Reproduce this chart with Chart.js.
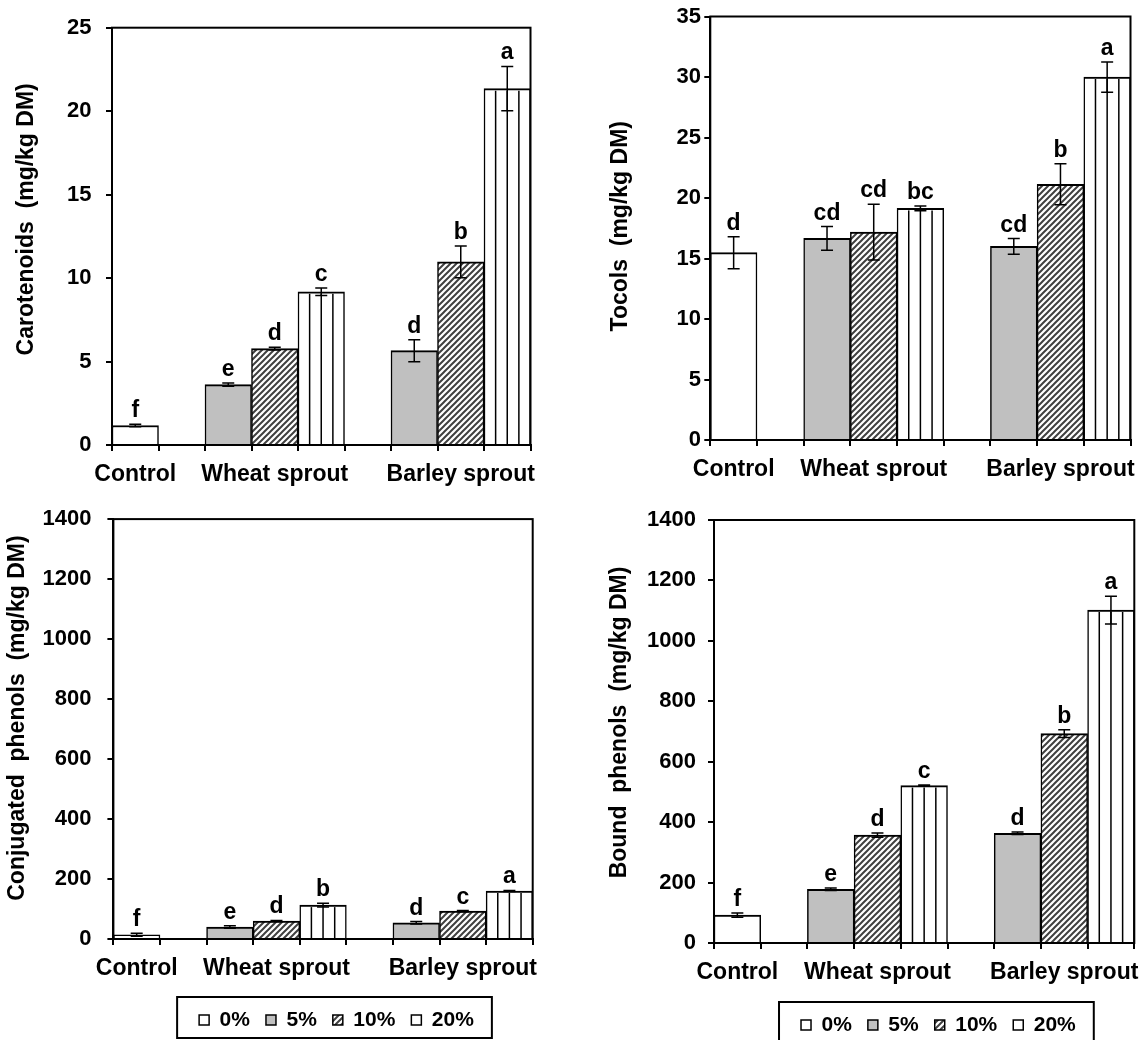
<!DOCTYPE html>
<html>
<head>
<meta charset="utf-8">
<script src="https://cdn.jsdelivr.net/npm/chart.js@4.4.0/dist/chart.umd.min.js"></script>
<style>
  html, body { margin: 0; padding: 0; background: #fff; overflow: hidden; width: 1146px; height: 1040px; }
  canvas { position: absolute; }
</style>
</head>
<body>
<canvas id="c1" width="560" height="500" style="left:0;top:0"></canvas>
<canvas id="c2" width="566" height="500" style="left:580px;top:0"></canvas>
<canvas id="c3" width="560" height="560" style="left:0;top:490px"></canvas>
<canvas id="c4" width="566" height="560" style="left:580px;top:490px"></canvas>
<script>
Chart.defaults.font.family = '"Liberation Sans", Arial, sans-serif';
Chart.defaults.font.weight = 'bold';
Chart.defaults.color = '#000';
Chart.defaults.animation = false;

// categories
const groups = ['Control', 'Wheat sprout', 'Barley sprout'];
const levels = ['0%', '5%', '10%', '20%'];
const groupLevels = [['0%'], ['5%', '10%', '20%'], ['5%', '10%', '20%']];

// values in bar order: Control 0%, Wheat 5/10/20%, Barley 5/10/20%
const carotenoids = [1.17, 3.62, 5.77, 9.18, 5.65, 10.97, 21.35];
const carotenoidsSd = [0.07, 0.1, 0.08, 0.22, 0.66, 0.95, 1.33];
const carotenoidsLetters = ['f', 'e', 'd', 'c', 'd', 'b', 'a'];
const carotenoidsTicks = [0, 5, 10, 15, 20, 25];

const tocols = [15.48, 16.66, 17.18, 19.14, 16.0, 21.14, 30.0];
const tocolsSd = [1.32, 0.98, 2.3, 0.2, 0.65, 1.7, 1.25];
const tocolsLetters = ['d', 'cd', 'cd', 'bc', 'cd', 'b', 'a'];
const tocolsTicks = [0, 5, 10, 15, 20, 25, 30, 35];

const conjugated = [14, 40, 60, 113, 54, 93, 160];
const conjugatedSd = [5, 4, 2, 6, 4, 2, 2];
const conjugatedLetters = ['f', 'e', 'd', 'b', 'd', 'c', 'a'];
const phenolTicks = [0, 200, 400, 600, 800, 1000, 1200, 1400];

const bound = [92, 178, 357, 521, 363, 693, 1102];
const boundSd = [7, 4, 7, 2, 4, 13, 46];
const boundLetters = ['f', 'e', 'd', 'c', 'd', 'b', 'a'];

// slots on the x axis: one bar per slot, an empty slot between groups
const slots = [];
const slotLabels = [];
groupLevels.forEach((lv, g) => {
  if (g > 0) { slots.push(null); slotLabels.push(''); }
  const start = slots.length;
  lv.forEach(level => { slots.push(level); slotLabels.push(''); });
  slotLabels[start + Math.floor(lv.length / 2)] = groups[g];
});

function hatchPattern() {
  const s = 6;
  const c = document.createElement('canvas');
  c.width = s; c.height = s;
  const g = c.getContext('2d');
  g.fillStyle = '#fff';
  g.fillRect(0, 0, s, s);
  g.strokeStyle = '#404040';
  g.lineWidth = 2;
  g.beginPath();
  g.moveTo(0, s); g.lineTo(s, 0);
  g.moveTo(-2, 2); g.lineTo(2, -2);
  g.moveTo(s - 2, s + 2); g.lineTo(s + 2, s - 2);
  g.stroke();
  return g.createPattern(c, 'repeat');
}
const hatch = hatchPattern();
const fills = { '0%': '#ffffff', '5%': '#c0c0c0', '10%': hatch, '20%': '#ffffff' };

function buildDatasets(values, sd, letters) {
  return levels.map(level => {
    const data = [], errs = [], marks = [];
    let k = -1;
    slots.forEach(s => {
      if (s !== null) k++;
      if (s === level) {
        data.push(values[k]); errs.push(sd[k]); marks.push(letters[k]);
      } else {
        data.push(null); errs.push(null); marks.push(null);
      }
    });
    return {
      label: level,
      data: data,
      errs: errs,
      marks: marks,
      stripes: level === '20%',
      backgroundColor: fills[level],
      borderColor: '#000',
      borderWidth: { top: 2, left: 1.5, right: 1.5, bottom: 0 },
      barPercentage: 1,
      categoryPercentage: 1
    };
  });
}

const FONT = '"Liberation Sans", Arial, sans-serif';

const decor = {
  id: 'decor',
  afterLayout(chart) {
    const o = chart.options.plugins.decor;
    const lg = chart.legend;
    if (lg && o.legendCenter != null) {
      const dx = o.legendCenter - (lg.left + lg.right) / 2;
      lg.left += dx; lg.right += dx;
    }
  },
  afterDatasetsDraw(chart) {
    const ctx = chart.ctx;
    const a = chart.chartArea;
    const ys = chart.scales.y;
    const o = chart.options.plugins.decor;
    ctx.save();
    // vertical stripes of the 20% bars
    chart.data.datasets.forEach((ds, i) => {
      if (!ds.stripes) return;
      chart.getDatasetMeta(i).data.forEach((bar, j) => {
        if (ds.data[j] == null) return;
        const p = bar.getProps(['x', 'y', 'base', 'width'], true);
        ctx.strokeStyle = '#000';
        ctx.lineWidth = 1.5;
        for (let q = 1; q < 4; q++) {
          const x = p.x - p.width / 2 + p.width * q / 4;
          ctx.beginPath();
          ctx.moveTo(x, p.y + 2);
          ctx.lineTo(x, p.base);
          ctx.stroke();
        }
      });
    });
    // plot frame
    ctx.lineWidth = 2;
    ctx.strokeStyle = '#000';
    ctx.strokeRect(a.left, a.top, a.right - a.left, a.bottom - a.top);
    // error bars and letters
    ctx.font = 'bold 23px ' + FONT;
    ctx.textAlign = 'center';
    ctx.textBaseline = 'alphabetic';
    ctx.fillStyle = '#000';
    chart.data.datasets.forEach((ds, i) => {
      chart.getDatasetMeta(i).data.forEach((bar, j) => {
        const v = ds.data[j];
        if (v == null) return;
        const hi = ys.getPixelForValue(v + ds.errs[j]);
        const lo = ys.getPixelForValue(v - ds.errs[j]);
        ctx.lineWidth = 1.5;
        ctx.beginPath();
        ctx.moveTo(bar.x, hi); ctx.lineTo(bar.x, lo);
        ctx.moveTo(bar.x - 6, hi); ctx.lineTo(bar.x + 6, hi);
        ctx.moveTo(bar.x - 6, lo); ctx.lineTo(bar.x + 6, lo);
        ctx.stroke();
        ctx.fillText(ds.marks[j], bar.x, hi - 7);
      });
    });
    // y axis title, nudged like the original figure
    ctx.translate(o.titleX, (a.top + a.bottom) / 2 + o.titleShift);
    ctx.rotate(-Math.PI / 2);
    ctx.textBaseline = 'middle';
    ctx.fillText(o.title, 0, 0);
    ctx.restore();
  },
  afterDraw(chart) {
    const lg = chart.legend;
    if (!lg || !lg.options.display || !lg.legendHitBoxes || !lg.legendHitBoxes.length) return;
    const hb = lg.legendHitBoxes;
    const l = Math.min(...hb.map(h => h.left)) - 22;
    const r = Math.max(...hb.map(h => h.left + h.width)) + 18;
    const cy = hb[0].top + hb[0].height / 2;
    const ctx = chart.ctx;
    ctx.save();
    ctx.lineWidth = 2;
    ctx.strokeStyle = '#000';
    ctx.strokeRect(l, cy - 23, r - l, 41);
    ctx.restore();
  }
};

function panel(id, values, sd, letters, ticks, title, lay) {
  new Chart(document.getElementById(id), {
    type: 'bar',
    data: { labels: slotLabels, datasets: buildDatasets(values, sd, letters) },
    options: {
      responsive: false,
      layout: { padding: lay.padding },
      plugins: {
        tooltip: { enabled: false },
        decor: { legendCenter: lay.legendCenter, title: title, titleX: lay.titleX, titleShift: lay.titleShift },
        legend: {
          display: lay.legend,
          position: 'bottom',
          labels: {
            font: { size: 21, weight: 'bold' },
            color: '#000',
            boxWidth: 10,
            boxHeight: 10,
            padding: 16,
            generateLabels: (chart) => chart.data.datasets.map((ds, i) => ({
              text: ds.label,
              fillStyle: ds.backgroundColor,
              strokeStyle: '#000',
              lineWidth: 1.5,
              hidden: false,
              datasetIndex: i,
              fontColor: '#000'
            }))
          }
        }
      },
      scales: {
        x: {
          stacked: true,
          offset: true,
          grid: { offset: true, drawOnChartArea: false, drawTicks: true, tickLength: 6, color: '#000', lineWidth: 2 },
          border: { display: true, color: '#000', width: 2 },
          ticks: { autoSkip: false, maxRotation: 0, minRotation: 0, padding: 10, color: '#000',
                   font: { size: 23, weight: 'bold', lineHeight: 1.2 } },
          afterFit: (s) => { s.height = lay.xHeight; }
        },
        y: {
          stacked: true,
          min: ticks[0],
          max: ticks[ticks.length - 1],
          grid: { drawOnChartArea: false, drawTicks: true, tickLength: 6, color: '#000', lineWidth: 2 },
          border: { display: true, color: '#000', width: 2 },
          ticks: { stepSize: ticks[1] - ticks[0], padding: lay.tickPad, color: '#000',
                   font: { size: 22, weight: 'bold' }, callback: (v) => String(v) },
          title: { display: false },
          afterFit: (s) => { s.width = lay.yWidth; }
        }
      }
    },
    plugins: [decor]
  });
}

panel('c1', carotenoids, carotenoidsSd, carotenoidsLetters, carotenoidsTicks, 'Carotenoids  (mg/kg DM)',
  { padding: { left: 0, right: 29.5, top: 22, bottom: 0 }, yWidth: 112, xHeight: 55, tickPad: 14.5,
    titleX: 27, titleShift: -17, legend: false });
panel('c2', tocols, tocolsSd, tocolsLetters, tocolsTicks, 'Tocols  (mg/kg DM)',
  { padding: { left: 0, right: 15.5, top: 15.7, bottom: 5 }, yWidth: 130.3, xHeight: 55, tickPad: 3.3,
    titleX: 41, titleShift: -2, legend: false });
panel('c3', conjugated, conjugatedSd, conjugatedLetters, phenolTicks, 'Conjugated  phenols  (mg/kg DM)',
  { padding: { left: 0, right: 27.3, top: 25.5, bottom: 9.5 }, yWidth: 113.4, xHeight: 54.5, tickPad: 15.9,
    titleX: 18, titleShift: -11, legend: true, legendCenter: 336.5 });
panel('c4', bound, boundSd, boundLetters, phenolTicks, 'Bound  phenols  (mg/kg DM)',
  { padding: { left: 0, right: 11.7, top: 30, bottom: 4.5 }, yWidth: 134, xHeight: 55.5, tickPad: 12,
    titleX: 40, titleShift: -9, legend: true, legendCenter: 358.4 });
</script>
</body>
</html>
